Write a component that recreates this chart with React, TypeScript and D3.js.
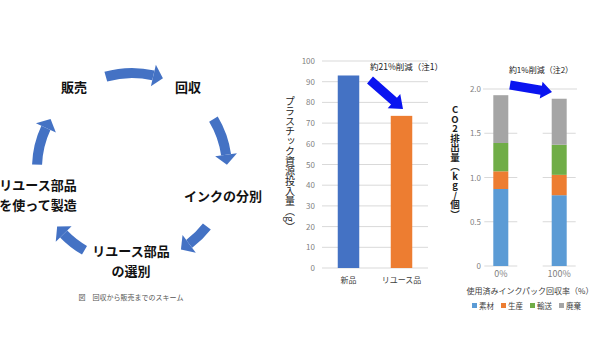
import * as React from 'react'
import * as d3 from 'd3'

// left: recycling cycle
const cycleLabels = [['販売'], ['回収'], ['インクの分別'], ['リユース部品', 'の選別'], ['リユース部品', 'を使って製造']]
const cycleArrowStart = [-16, 59, 128, 210, 272] // degrees, clockwise from top
const cycleArrowEnd = [19, 88, 149, 232, 301]
const caption = '図　回収から販売までのスキーム'

// middle: plastic input
const plasticCats = ['新品', 'リユース品']
const plasticVals = [93, 73.5]
const plasticTicks = [0, 10, 20, 30, 40, 50, 60, 70, 80, 90, 100]

// right: CO2 emission
const co2Cats = ['0%', '100%']
const co2Keys = ['素材', '生産', '輸送', '廃棄']
const co2Material = [0.87, 0.8]
const co2Production = [0.2, 0.23]
const co2Transport = [0.32, 0.34]
const co2Disposal = [0.54, 0.52]
const co2Ticks = [0, 0.5, 1.0, 1.5, 2.0]

const FONT = '"Noto Sans CJK JP", "Noto Sans", sans-serif'
const co2Colors = ['#5b9bd5', '#ed7d31', '#70ad47', '#a5a5a5']

const fatArrow = (x1: number, y1: number, x2: number, y2: number, bw: number, hw: number, hl: number) => {
  const len = Math.hypot(x2 - x1, y2 - y1)
  const ux = (x2 - x1) / len, uy = (y2 - y1) / len
  const nx = -uy, ny = ux
  const bx = x2 - ux * hl, by = y2 - uy * hl
  const p = [
    [x1 + nx * bw / 2, y1 + ny * bw / 2],
    [bx + nx * bw / 2, by + ny * bw / 2],
    [bx + nx * hw / 2, by + ny * hw / 2],
    [x2, y2],
    [bx - nx * hw / 2, by - ny * hw / 2],
    [bx - nx * bw / 2, by - ny * bw / 2],
    [x1 - nx * bw / 2, y1 - ny * bw / 2],
  ]
  return 'M' + p.map(q => q.join(',')).join('L') + 'Z'
}

const Cycle = () => {
  const cx = 132, cy = 168, r = 95
  const bw = 10, hw = 22, headDeg = 6
  const rad = (d: number) => (d * Math.PI) / 180
  const pt = (rr: number, a: number) => [cx + rr * Math.sin(a), cy - rr * Math.cos(a)]
  const arc = d3.arc<any>().innerRadius(r - bw / 2).outerRadius(r + bw / 2)
  const labelPos = [[74, 87], [188, 87], [223, 196], [131, 251], [38, 185]]
  return (
    <g>
      {cycleArrowStart.map((s, i) => {
        const a0 = rad(s), a1 = rad(cycleArrowEnd[i]), ah = rad(cycleArrowEnd[i] - headDeg)
        const body = arc({ startAngle: a0, endAngle: ah }) as string
        const h1 = pt(r - hw / 2, ah), h2 = pt(r + hw / 2, ah), tip = pt(r, a1)
        return (
          <g key={i} transform={`translate(${cx},${cy})`}>
            <path d={body} fill="#4472c4" />
            <path
              transform={`translate(${-cx},${-cy})`}
              d={`M${h1.join(',')}L${tip.join(',')}L${h2.join(',')}Z`}
              fill="#4472c4"
            />
          </g>
        )
      })}
      {cycleLabels.map((lines, i) => (
        <text key={i} fontFamily={FONT} fontWeight="bold" fontSize={13} fill="#111" textAnchor="middle">
          {lines.map((l, j) => (
            <tspan key={j} x={labelPos[i][0]} y={labelPos[i][1] + 4.5 + j * 20}>{l}</tspan>
          ))}
        </text>
      ))}
      <text x={131} y={300} fontFamily={FONT} fontSize={7} fill="#555" textAnchor="middle">{caption}</text>
    </g>
  )
}

const PlasticChart = () => {
  const y = d3.scaleLinear().domain([0, 100]).range([268, 61])
  const x = d3.scalePoint<string>().domain(plasticCats).range([322, 428]).padding(0.5)
  const barW = 21.5
  const colors = ['#4472c4', '#ed7d31']
  return (
    <g fontFamily={FONT}>
      {plasticTicks.map(t => (
        <g key={t}>
          <line x1={322} x2={428} y1={y(t)} y2={y(t)} stroke="#d9d9d9" strokeWidth={1} />
          <text x={315} y={y(t) + 3} fontSize={8} fill="#7f7f7f" textAnchor="end">{t}</text>
        </g>
      ))}
      {plasticCats.map((c, i) => (
        <g key={c}>
          <rect x={x(c)! - barW / 2} y={y(plasticVals[i])} width={barW} height={y(0) - y(plasticVals[i])} fill={colors[i]} />
          <text x={x(c)} y={283} fontSize={8} fill="#404040" textAnchor="middle">{c}</text>
        </g>
      ))}
      <text x={290} y={164} fontSize={10} fill="#222" textAnchor="middle" style={{ writingMode: 'vertical-rl' }}>
        プラスチック資源投入量（g）
      </text>
      <path d={fatArrow(370, 80, 403, 109, 9, 19, 12)} fill="#0a14f0" />
      <text x={370} y={70} fontSize={8.5} fill="#222">約21%削減（注1）</text>
    </g>
  )
}

const Co2Chart = () => {
  const y = d3.scaleLinear().domain([0, 2]).range([266, 89])
  const x = d3.scalePoint<string>().domain(co2Cats).range([471.6, 588.4]).padding(0.5)
  const barW = 15
  const rows = co2Cats.map((c, i) => ({
    cat: c,
    素材: co2Material[i],
    生産: co2Production[i],
    輸送: co2Transport[i],
    廃棄: co2Disposal[i],
  }))
  const series = d3.stack<any>().keys(co2Keys)(rows)
  const fmt = (t: number) => (t === 0 ? '0' : d3.format('.1f')(t))
  return (
    <g fontFamily={FONT}>
      {co2Ticks.map(t => (
        <g key={t}>
          {t === 2 ? (
            <line x1={483} x2={577} y1={y(t)} y2={y(t)} stroke="#d9d9d9" />
          ) : (
            co2Cats.map(c => (
              <line key={c} x1={x(c)! - barW / 2 - 9} x2={x(c)! + barW / 2 + 9} y1={y(t)} y2={y(t)} stroke="#d9d9d9" />
            ))
          )}
          <text x={481} y={y(t) + 3} fontSize={8} fill="#7f7f7f" textAnchor="end">{fmt(t)}</text>
        </g>
      ))}
      {series.map((s, k) => (
        <g key={s.key} fill={co2Colors[k]}>
          {s.map((d, i) => (
            <rect key={i} x={x(co2Cats[i])! - barW / 2} y={y(d[1])} width={barW} height={y(d[0]) - y(d[1])} />
          ))}
        </g>
      ))}
      {co2Cats.map(c => (
        <text key={c} x={x(c)} y={277} fontSize={9} fill="#7f7f7f" textAnchor="middle">{c}</text>
      ))}
      <text x={455} y={162} fontSize={9.5} fontWeight="bold" fill="#222" textAnchor="middle"
        style={{ writingMode: 'vertical-rl', textOrientation: 'upright' } as any}>
        CO2排出量（kg/個）
      </text>
      <text x={530} y={294} fontSize={8} fill="#404040" textAnchor="middle">使用済みインクパック回収率（%）</text>
      {co2Keys.map((k, i) => (
        <g key={k} transform={`translate(${472 + i * 29},306)`}>
          <rect x={0} y={-3} width={5} height={5} fill={co2Colors[i]} />
          <text x={7} y={2.5} fontSize={7.5} fill="#404040">{k}</text>
        </g>
      ))}
      <path d={fatArrow(510, 85, 552, 92, 9, 17, 11)} fill="#0a14f0" />
      <text x={541} y={73} fontSize={8} fill="#222" textAnchor="middle">約1%削減（注2）</text>
    </g>
  )
}

export default function App() {
  return (
    <svg width={596} height={362} style={{ position: 'absolute', left: 0, top: 0, background: '#fff' }}>
      <Cycle />
      <PlasticChart />
      <Co2Chart />
    </svg>
  )
}
